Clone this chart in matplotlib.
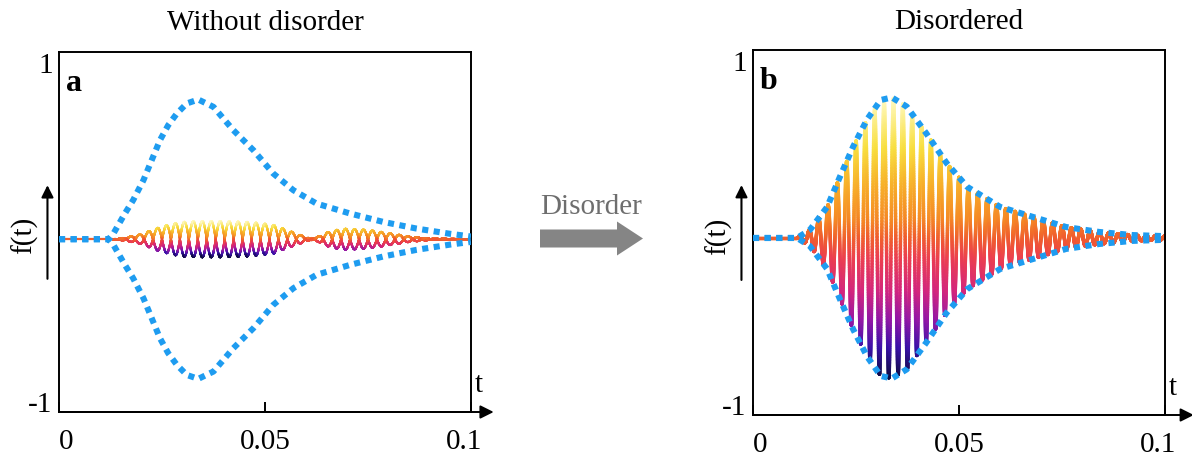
import numpy as np
import matplotlib
matplotlib.use("Agg")
import matplotlib.pyplot as plt
from matplotlib.collections import LineCollection
from matplotlib.colors import LinearSegmentedColormap, Normalize
from matplotlib.patches import FancyArrow
from matplotlib.transforms import ScaledTranslation

plt.rcParams["font.family"] = ["Liberation Serif", "DejaVu Serif"]

# dotted envelope, panel a (t, half height)
env_a_t = [0, 0.012, 0.0132, 0.016, 0.018, 0.0205, 0.0225, 0.0245, 0.0265, 0.0286,
           0.031, 0.0338, 0.0375, 0.0423, 0.0472, 0.052, 0.0569, 0.0625, 0.0706,
           0.0787, 0.0868, 0.0949, 0.1]
env_a_amp = [0, 0, 0.031, 0.143, 0.217, 0.328, 0.439, 0.55, 0.633, 0.698,
             0.754, 0.776, 0.735, 0.606, 0.494, 0.365, 0.272, 0.198, 0.143,
             0.096, 0.059, 0.03, 0.015]

# small chain-of-loops signal, panel a
sig_a_t = [0, 0.013, 0.0155, 0.0205, 0.0228, 0.0265, 0.0295, 0.034, 0.040, 0.0464,
           0.052, 0.056, 0.059, 0.061, 0.063, 0.0658, 0.069, 0.073, 0.077, 0.081,
           0.085, 0.09, 0.1]
sig_a_amp = [0, 0, 0.006, 0.03, 0.055, 0.08, 0.095, 0.1, 0.1, 0.095,
             0.08, 0.045, 0.02, 0.004, 0.015, 0.045, 0.058, 0.055, 0.045, 0.03,
             0.015, 0.004, 0]

# envelope, panel b (signal fills it)
env_b_t = [0, 0.0107, 0.0138, 0.018, 0.021, 0.0243, 0.0277, 0.031, 0.0337, 0.0373,
           0.042, 0.047, 0.052, 0.060, 0.068, 0.076, 0.084, 0.092, 0.1]
env_b_amp = [0, 0, 0.044, 0.17, 0.33, 0.50, 0.65, 0.756, 0.77, 0.72,
             0.575, 0.41, 0.28, 0.17, 0.115, 0.06, 0.033, 0.016, 0.01]

cycles_a = 23      # cycles over 0..0.1 (two lobes per cycle)
cycles_b = 44

x_ticks = [0, 0.05, 0.1]
x_ticklabels = ["0", "0.05", "0.1"]
titles = ["Without disorder", "Disordered"]
letters = ["a", "b"]

cmap = LinearSegmentedColormap.from_list("wave", [
    (0.0, "#0c0a3c"), (0.11, "#3a12a8"), (0.21, "#9418a6"), (0.31, "#d3267e"),
    (0.43, "#ec3f50"), (0.5, "#f05e2e"), (0.57, "#f58a25"), (0.69, "#f7b02a"),
    (0.82, "#f8df40"), (1.0, "#fffbc8")])

BLUE = "#1e9cf0"

fig = plt.figure(figsize=(11.92, 4.61), dpi=100)
ax_a = fig.add_axes([59 / 1192, 49 / 461, 412 / 1192, 360 / 461])
ax_b = fig.add_axes([753 / 1192, 46 / 461, 412 / 1192, 365 / 461])


def colored_line(ax, x, y, vmin, vmax, lw):
    pts = np.column_stack([x, y]).reshape(-1, 1, 2)
    segs = np.concatenate([pts[:-1], pts[1:]], axis=1)
    lc = LineCollection(segs, cmap=cmap, norm=Normalize(vmin, vmax),
                        linewidths=lw, capstyle="round", zorder=2)
    lc.set_array(0.5 * (y[:-1] + y[1:]))
    ax.add_collection(lc)


def envelope(ax, t, amp):
    t = np.asarray(t)
    amp = np.asarray(amp)
    for sign in (1, -1):
        ax.plot(t, sign * amp, color=BLUE, lw=4.4,
                linestyle=(0, (1.0, 0.9)), dash_capstyle="butt", zorder=3)


s = np.linspace(0, 0.1, 12000)

# panel a: mirrored pair of curves -> chain of loops
amp_a = np.interp(s, sig_a_t, sig_a_amp)
wave_a = amp_a * np.cos(2 * np.pi * cycles_a * s / 0.1)
for sign in (1, -1):
    colored_line(ax_a, s, sign * wave_a, -0.1, 0.1, 1.5)
envelope(ax_a, env_a_t, env_a_amp)

# panel b: modulated carrier
amp_b = np.interp(s, env_b_t, env_b_amp)
yb = amp_b * np.cos(2 * np.pi * cycles_b * s / 0.1)
colored_line(ax_b, s, yb, -0.77, 0.77, 2.5)
envelope(ax_b, env_b_t, env_b_amp)

ylims = [(-0.96, 1.04), (-0.97, 1.03)]
for ax, title, letter, yl, pad in zip([ax_a, ax_b], titles, letters, ylims, [15.5, 15]):
    ax.set_xlim(0, 0.1)
    ax.set_ylim(*yl)
    for sp in ax.spines.values():
        sp.set_linewidth(1.4)
    ax.set_xticks(x_ticks)
    ax.set_xticklabels(x_ticklabels, fontsize=21)
    ax.tick_params(axis="x", direction="in", length=7, width=1.4, pad=12)
    labels = ax.get_xticklabels()
    for lab, dx in zip(labels, [7, 0, -7]):
        lab.set_transform(lab.get_transform() + ScaledTranslation(dx / 100, 0, fig.dpi_scale_trans))
    ax.set_yticks([])
    ax.set_title(title, fontsize=21, pad=pad)
    ax.text(0.016, 0.893, letter, transform=ax.transAxes, fontsize=23,
            fontweight="bold", ha="left", va="baseline")
    ax.text(-0.014, 0.998, "1", transform=ax.transAxes, fontsize=21,
            ha="right", va="top")
    ax.text(-0.016, 0.0, "-1", transform=ax.transAxes, fontsize=21,
            ha="right", va="baseline")
    ax.text(-0.083, 0.49, "f(t)", transform=ax.transAxes, fontsize=21,
            rotation=90, ha="center", va="center")
    ax.text(1.008, 0.055, "t", transform=ax.transAxes, fontsize=21,
            ha="left", va="baseline")
    ax.annotate("", xy=(-0.028, 0.63), xytext=(-0.028, 0.37),
                xycoords="axes fraction",
                arrowprops=dict(arrowstyle="-|>", lw=1.5, color="k",
                                mutation_scale=18, shrinkA=0, shrinkB=0),
                annotation_clip=False)

for ax, xe in [(ax_a, 1.055), (ax_b, 1.07)]:
    ax.annotate("", xy=(xe, 0), xytext=(0, 0), xycoords="axes fraction",
                arrowprops=dict(arrowstyle="-|>", lw=1.4, color="k",
                                mutation_scale=20, shrinkA=0, shrinkB=0),
                annotation_clip=False)

# middle arrow between panels
mid = fig.add_axes([0, 0, 1, 1], zorder=-1)
mid.set_xlim(0, 1192)
mid.set_ylim(461, 0)
mid.axis("off")
mid.text(591, 207, "Disorder", fontsize=21, color="#6e6e6e",
         ha="center", va="center")
mid.add_patch(FancyArrow(540, 238.5, 103, 0, width=18, head_width=34,
                         head_length=26, length_includes_head=True,
                         color="#858585", lw=0))

fig.savefig("out.png", dpi=100)
